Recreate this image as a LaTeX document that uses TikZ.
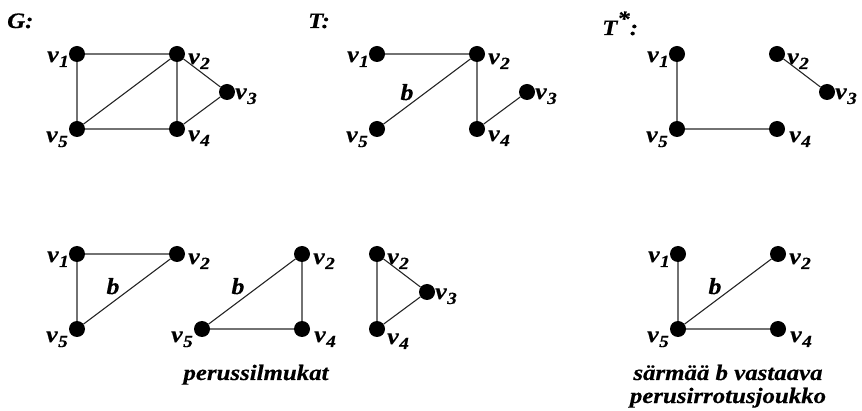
\documentclass[tikz,border=0pt]{standalone}
\usepackage{fontspec}
\setmainfont{Liberation Serif}
\newfontfamily\wideserif[FakeStretch=1.13,FakeBold=0.4]{Liberation Serif}
\usetikzlibrary{calc}
\tikzset{
  dot/.style={circle, fill=black, inner sep=0pt, minimum size=16pt},
  edge/.style={line width=1.1pt, black!85},
  lab/.style={inner sep=0pt, font=\wideserif\fontsize{23}{23}\selectfont\bfseries\itshape},
  txt/.style={inner sep=0pt, font=\wideserif\fontsize{22}{24}\selectfont\bfseries\itshape},
}
\newcommand{\vlab}[1]{v\kern0.5pt\raisebox{-5pt}{\fontsize{17}{17}\selectfont #1}}
\begin{document}
\begin{tikzpicture}[x=1pt,y=-1pt]
\useasboundingbox (0,0) rectangle (862,411);
% ---------- G ----------
\node[txt, anchor=base west] (Gt) at (7,28) {G:};
\node[dot] (g1) at (77,54) {};
\node[dot] (g2) at (177,54) {};
\node[dot] (g3) at (227,92) {};
\node[dot] (g4) at (177,129) {};
\node[dot] (g5) at (77,129) {};
\draw[edge] (g1)--(g2) (g1)--(g5) (g5)--(g2) (g2)--(g4) (g5)--(g4) (g2)--(g3) (g3)--(g4);
\node[lab, anchor=base east] (g1l) at ($(g1)+(-8,8)$) {\vlab1};
\node[lab, anchor=base west] (g2l) at ($(g2)+(11,10)$) {\vlab2};
\node[lab, anchor=base west] (g3l) at ($(g3)+(8,7)$) {\vlab3};
\node[lab, anchor=base west] (g4l) at ($(g4)+(11,12)$) {\vlab4};
\node[lab, anchor=base east] (g5l) at ($(g5)+(-9,13)$) {\vlab5};
% ---------- T ----------
\node[txt, anchor=base west] (Tt) at (308,28) {T:};
\node[dot] (t1) at (377,54) {};
\node[dot] (t2) at (477,54) {};
\node[dot] (t3) at (527,92) {};
\node[dot] (t4) at (477,129) {};
\node[dot] (t5) at (377,129) {};
\draw[edge] (t1)--(t2) (t2)--(t5) (t2)--(t4) (t4)--(t3);
\node[lab, anchor=base] (tb) at (407,100) {b};
\node[lab, anchor=base east] (t1l) at ($(t1)+(-8,8)$) {\vlab1};
\node[lab, anchor=base west] (t2l) at ($(t2)+(11,10)$) {\vlab2};
\node[lab, anchor=base west] (t3l) at ($(t3)+(8,7)$) {\vlab3};
\node[lab, anchor=base west] (t4l) at ($(t4)+(11,12)$) {\vlab4};
\node[lab, anchor=base east] (t5l) at ($(t5)+(-9,13)$) {\vlab5};
% ---------- T* ----------
\node[txt, anchor=base west] (Ts) at (602,35) {T\raisebox{9pt}{*}:};
\node[dot] (s1) at (677,54) {};
\node[dot] (s2) at (777,54) {};
\node[dot] (s3) at (827,92) {};
\node[dot] (s4) at (777,129) {};
\node[dot] (s5) at (677,129) {};
\draw[edge] (s1)--(s5) (s5)--(s4) (s2)--(s3);
\node[lab, anchor=base east] (s1l) at ($(s1)+(-8,8)$) {\vlab1};
\node[lab, anchor=base west] (s2l) at ($(s2)+(10,10)$) {\vlab2};
\node[lab, anchor=base west] (s3l) at ($(s3)+(8,7)$) {\vlab3};
\node[lab, anchor=base west] (s4l) at ($(s4)+(12,13)$) {\vlab4};
\node[lab, anchor=base east] (s5l) at ($(s5)+(-9,13)$) {\vlab5};
% ---------- cycle 1 ----------
\node[dot] (a1) at (77,254) {};
\node[dot] (a2) at (177,254) {};
\node[dot] (a5) at (77,329) {};
\draw[edge] (a1)--(a2) (a1)--(a5) (a5)--(a2);
\node[lab, anchor=base] (ab) at (113,294) {b};
\node[lab, anchor=base east] (a1l) at ($(a1)+(-8,8)$) {\vlab1};
\node[lab, anchor=base west] (a2l) at ($(a2)+(11,10)$) {\vlab2};
\node[lab, anchor=base east] (a5l) at ($(a5)+(-9,13)$) {\vlab5};
% ---------- cycle 2 ----------
\node[dot] (b2) at (302,254) {};
\node[dot] (b4) at (302,329) {};
\node[dot] (b5) at (202,329) {};
\draw[edge] (b5)--(b2) (b2)--(b4) (b5)--(b4);
\node[lab, anchor=base] (bb) at (238,294) {b};
\node[lab, anchor=base west] (b2l) at ($(b2)+(11,10)$) {\vlab2};
\node[lab, anchor=base west] (b4l) at ($(b4)+(12,13)$) {\vlab4};
\node[lab, anchor=base east] (b5l) at ($(b5)+(-9,13)$) {\vlab5};
% ---------- cycle 3 ----------
\node[dot] (c2) at (377,254) {};
\node[dot] (c3) at (427,292) {};
\node[dot] (c4) at (377,329) {};
\draw[edge] (c2)--(c3) (c3)--(c4) (c2)--(c4);
\node[lab, anchor=base west] (c2l) at ($(c2)+(10,10)$) {\vlab2};
\node[lab, anchor=base west] (c3l) at ($(c3)+(8,7)$) {\vlab3};
\node[lab, anchor=base west] (c4l) at ($(c4)+(10,15)$) {\vlab4};
\node[txt, anchor=base] (pc) at (256,380) {perussilmukat};
% ---------- cut set ----------
\node[dot] (d1) at (678,254) {};
\node[dot] (d2) at (778,254) {};
\node[dot] (d4) at (778,329) {};
\node[dot] (d5) at (678,329) {};
\draw[edge] (d1)--(d5) (d5)--(d2) (d5)--(d4);
\node[lab, anchor=base] (db) at (715,294) {b};
\node[lab, anchor=base east] (d1l) at ($(d1)+(-8,8)$) {\vlab1};
\node[lab, anchor=base west] (d2l) at ($(d2)+(11,10)$) {\vlab2};
\node[lab, anchor=base west] (d4l) at ($(d4)+(12,13)$) {\vlab4};
\node[lab, anchor=base east] (d5l) at ($(d5)+(-9,13)$) {\vlab5};
\node[txt, anchor=base] (cs1) at (728,380) {särmää b vastaava};
\node[txt, anchor=base] (cs2) at (728,403) {perusirrotusjoukko};
\end{tikzpicture}
\end{document}
